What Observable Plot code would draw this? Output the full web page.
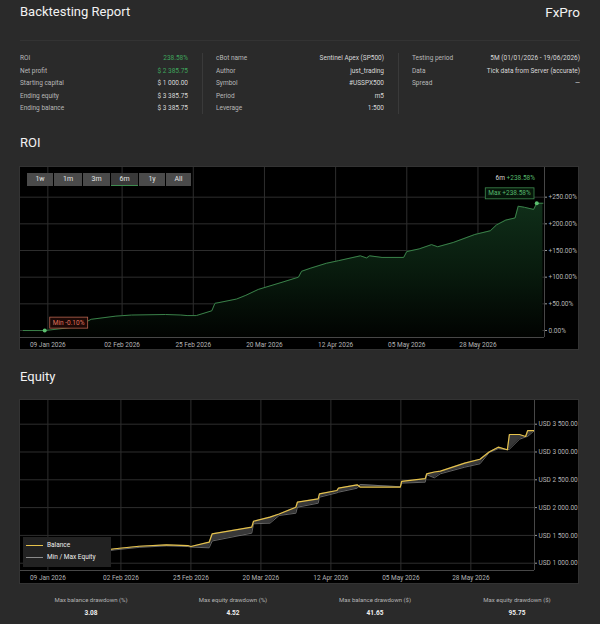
<!DOCTYPE html>
<html><head><meta charset="utf-8">
<script src="https://cdn.jsdelivr.net/npm/d3@7"></script>
<script src="https://cdn.jsdelivr.net/npm/@observablehq/plot@0.6"></script>
<style>
body{margin:0;background:#2a2a2a;font-family:Roboto,"Liberation Sans",sans-serif;}
#page{position:relative;width:600px;height:624px;background:#2a2a2a;overflow:hidden;color:#ddd}
#page div{position:absolute;white-space:nowrap}
</style></head><body><div id="page"></div>
<script>
// ---------- data ----------
const statLabels1 = ["ROI","Net profit","Starting capital","Ending equity","Ending balance"];
const statValues1 = ["238.58%","$ 2 385.75","$ 1 000.00","$ 3 385.75","$ 3 385.75"];
const statLabels2 = ["cBot name","Author","Symbol","Period","Leverage"];
const statValues2 = ["Sentinel Apex (SP500)","just_trading","#USSPX500","m5","1:500"];
const statLabels3 = ["Testing period","Data","Spread"];
const statValues3 = ["5M (01/01/2026 - 19/06/2026)","Tick data from Server (accurate)","—"];
const rangeButtons = ["1w","1m","3m","6m","1y","All"];
const footLabels = ["Max balance drawdown (%)","Max equity drawdown (%)","Max balance drawdown ($)","Max equity drawdown ($)"];
const footValues = ["3.08","4.52","41.65","95.75"];

const xTickDates = ["2026-01-09","2026-02-02","2026-02-25","2026-03-20","2026-04-12","2026-05-05","2026-05-28"];
const roiTicks = [0,50,100,150,200,250];
const equityTicks = [1000,1500,2000,2500,3000,3500];

const roiDates = ["2026-01-01","2026-01-08","2026-01-20","2026-01-21","2026-01-23","2026-01-31","2026-02-05","2026-02-16","2026-02-21","2026-02-23","2026-02-26","2026-03-03","2026-03-04","2026-03-05","2026-03-11","2026-03-14","2026-03-18","2026-03-26","2026-03-31","2026-04-01","2026-04-04","2026-04-09","2026-04-13","2026-04-20","2026-04-22","2026-04-23","2026-04-27","2026-05-04","2026-05-05","2026-05-09","2026-05-13","2026-05-15","2026-05-20","2026-05-27","2026-06-01","2026-06-03","2026-06-06","2026-06-09","2026-06-10","2026-06-12","2026-06-15","2026-06-16","2026-06-18"];
const roiValues = [0,-0.1,8,15,21,27,29,30,29,28,28,37,51,52,59,66,77,91,100,111,117,126,131,140,136,140,137,137,148,153,161,157,165,180,187,198,207,211,233,231,227,238.58,238.58];
const roiMinDate = "2026-01-08", roiMinValue = -0.10;
const roiMaxDate = "2026-06-16", roiMaxValue = 238.58;

const eqDates = ["2026-01-01","2026-01-09","2026-01-19","2026-01-21","2026-01-23","2026-01-31","2026-02-08","2026-02-17","2026-02-24","2026-02-25","2026-03-03","2026-03-04","2026-03-17","2026-03-17T14:00","2026-03-23","2026-03-26","2026-03-31T12:00","2026-04-01","2026-04-07T20:00","2026-04-08T06:00","2026-04-14","2026-04-14T12:00","2026-04-20T16:00","2026-04-21T16:00","2026-05-04T20:00","2026-05-05T06:00","2026-05-13","2026-05-13T12:00","2026-05-16","2026-05-18","2026-05-26","2026-05-31","2026-06-03","2026-06-06","2026-06-09","2026-06-09T16:00","2026-06-13","2026-06-15","2026-06-15T16:00","2026-06-17T22:00"];
const balanceValues = [1000,1000,1040,1130,1200,1260,1305,1330,1318,1300,1378,1529,1648,1755,1830,1885,2007,2097,2158,2248,2308,2349,2410,2367,2367,2470,2520,2608,2640,2655,2800,2870,3000,3087,3040,3315,3315,3279,3385,3385.75];
const equityValues = [1000,999,1025,1100,1175,1240,1285,1312,1300,1290,1277,1400,1540,1709,1720,1858,1899,2007,2079,2187,2266,2277,2349,2415,2375,2440,2457,2590,2536,2608,2727,2788,2990,3060,3040,3050,3230,3270,3280,3385.75];

// ---------- helpers ----------
const page = document.getElementById("page");
function el(css, text, parent = page) {
  const e = document.createElement("div");
  e.style.cssText = css;
  if (text != null) e.textContent = text;
  parent.appendChild(e);
  return e;
}
const parse = s => new Date(s.length === 10 ? s + "T00:00:00Z" : s + ":00Z");
const xTicks = xTickDates.map(parse);
const dateFmt = d3.utcFormat("%d %b %Y");

// ---------- header ----------
el("left:20px;top:4px;font-size:13px;line-height:16px;color:#f2f2f2;", "Backtesting Report");
el("right:20px;top:4px;font-size:13.5px;line-height:16px;color:#f2f2f2;", "FxPro");
el("left:20px;top:40px;width:560px;height:1px;background:#333;");

function statCol(labels, values, lx, rx, greenRows) {
  labels.forEach((l, i) => {
    const top = 52 + i * 12.5;
    el(`left:${lx}px;top:${top}px;font-size:6.5px;line-height:12px;color:#b8b8b8;`, l);
    el(`right:${600 - rx}px;top:${top}px;font-size:6.5px;line-height:12px;color:${greenRows.includes(i) ? "#3fa45c" : "#d8d8d8"};`, values[i]);
  });
}
statCol(statLabels1, statValues1, 20, 188, [0, 1]);
statCol(statLabels2, statValues2, 216, 384, []);
statCol(statLabels3, statValues3, 412, 580, []);
el("left:202px;top:53px;width:1px;height:61px;background:#3a3a3a;");
el("left:398px;top:53px;width:1px;height:61px;background:#3a3a3a;");

el("left:20px;top:135px;font-size:13px;line-height:16px;color:#f2f2f2;", "ROI");
el("left:20px;top:369px;font-size:13px;line-height:16px;color:#f2f2f2;", "Equity");

// ---------- ROI chart ----------
const roiPanel = el("left:20px;top:167px;width:558px;height:182px;background:#000;outline:1px solid #333;");
const roiData = roiDates.map((d, i) => ({date: parse(d), roi: roiValues[i]}));
const roiMin = {date: parse(roiMinDate), roi: roiMinValue};
const roiMax = {date: parse(roiMaxDate), roi: roiMaxValue};
const roiY0 = -13.1, roiY1 = 305.6;
const roiXEnd = parse("2026-06-18T12:00");
const pctFmt = d => (d > 0 ? "+" : "") + d.toFixed(2) + "%";

const roiChart = Plot.plot({
  width: 558, height: 182, marginLeft: 0, marginRight: 34, marginTop: 0, marginBottom: 12,
  style: {background: "transparent", fontFamily: "Roboto, sans-serif", fontSize: "6.5px", color: "#b4b4b4", overflow: "visible"},
  x: {type: "utc", domain: [parse("2025-12-31T04:00"), roiXEnd], label: null},
  y: {domain: [roiY0, roiY1], label: null},
  marks: [
    Plot.ruleX(xTicks, {stroke: "#2e2e2e", strokeWidth: 1}),
    Plot.ruleY(roiTicks, {stroke: "#2e2e2e", strokeWidth: 1}),
    Plot.areaY(roiData, {x: "date", y1: roiY0, y2: "roi", fill: "url(#roiGrad)"}),
    Plot.lineY(roiData, {x: "date", y: "roi", stroke: "#3a8149", strokeWidth: 1}),
    Plot.ruleY([roiY0], {stroke: "#474747"}),
    Plot.ruleX([roiXEnd], {stroke: "#474747"}),
    Plot.axisX(xTicks, {tickFormat: dateFmt, tickSize: 0, tickPadding: 5, label: null, fill: "#b4b4b4"}),
    Plot.axisY(roiTicks, {anchor: "right", tickSize: 2, tickPadding: 2, tickFormat: pctFmt, label: null, stroke: "#999", fill: "#b4b4b4"}),
    Plot.dot([roiMin, roiMax], {x: "date", y: "roi", r: 2, fill: "#5cc070"}),
    Plot.text([roiMin], {x: "date", y: "roi", text: d => "Min " + d.roi.toFixed(2) + "%", textAnchor: "start", dx: 8, dy: -8, fill: "#e0735e", fontSize: 6.5}),
    Plot.text([roiMax], {x: "date", y: "roi", text: d => "Max +" + d.roi.toFixed(2) + "%", textAnchor: "end", dx: -6, dy: -10, fill: "#55b86a", fontSize: 6.5})
  ]
});
roiPanel.appendChild(roiChart);
{
  const svg = d3.select(roiChart);
  const g = svg.insert("defs", ":first-child").append("linearGradient")
    .attr("id", "roiGrad").attr("gradientUnits", "userSpaceOnUse")
    .attr("x1", 0).attr("x2", 0).attr("y1", 30).attr("y2", 170);
  g.append("stop").attr("offset", 0).attr("stop-color", "#10301a");
  g.append("stop").attr("offset", 0.55).attr("stop-color", "#081a0d");
  g.append("stop").attr("offset", 1).attr("stop-color", "#010301");
  svg.selectAll("g[aria-label=text] text").each(function() {
    const b = this.getBBox();
    const isMin = this.textContent.startsWith("Min");
    const r = document.createElementNS("http://www.w3.org/2000/svg", "rect");
    r.setAttribute("x", b.x - 3); r.setAttribute("y", b.y - 1.5);
    r.setAttribute("width", b.width + 6); r.setAttribute("height", b.height + 3);
    const tr = this.getAttribute("transform");
    if (tr) r.setAttribute("transform", tr);
    r.setAttribute("fill", isMin ? "#1c0906" : "#06160a");
    r.setAttribute("stroke", isMin ? "#b86450" : "#3f8c50");
    r.setAttribute("stroke-width", 0.8);
    this.parentNode.insertBefore(r, this);
  });
}
// range buttons
{
  const widths = [26, 28, 27, 27, 26, 25];
  let x = 7;
  rangeButtons.forEach((b, i) => {
    const sel = b === "6m";
    el(`left:${x}px;top:6px;width:${widths[i]}px;height:13px;line-height:13px;text-align:center;font-size:7px;color:#e6e6e6;background:${sel ? "#393939" : "#4a4a4a"};${sel ? "border-bottom:1px solid #3f8c50;height:12px;" : ""}`, b, roiPanel);
    x += widths[i] + 1;
  });
}
{
  const lab = el("right:43px;top:7px;font-size:6.5px;line-height:9px;color:#dcdcdc;", null, roiPanel);
  lab.innerHTML = '6m <span style="color:#55b86a">+238.58%</span>';
}

// ---------- Equity chart ----------
const eqPanel = el("left:20px;top:400px;width:558px;height:183px;background:#000;outline:1px solid #333;");
const eqData = eqDates.map((d, i) => ({date: parse(d), balance: balanceValues[i], equity: equityValues[i]}));
const eqY0 = 869, eqY1 = 3926;
const eqXEnd = parse("2026-06-17T22:00");
const usdFmt = d => "USD " + d3.format(",.2f")(d).replace(/,/g, " ");
const eqChart = Plot.plot({
  width: 558, height: 183, marginLeft: 0, marginRight: 44, marginTop: 0, marginBottom: 13,
  style: {background: "transparent", fontFamily: "Roboto, sans-serif", fontSize: "6.5px", color: "#b4b4b4", overflow: "visible"},
  x: {type: "utc", domain: [parse("2025-12-31T00:00"), eqXEnd], label: null},
  y: {domain: [eqY0, eqY1], label: null},
  marks: [
    Plot.ruleX(xTicks, {stroke: "#2e2e2e"}),
    Plot.ruleY(equityTicks, {stroke: "#2e2e2e"}),
    Plot.areaY(eqData, {x: "date", y1: "equity", y2: "balance", fill: "#3e3e3e", fillOpacity: 0.9}),
    Plot.lineY(eqData, {x: "date", y: "equity", stroke: "#7d7d7d", strokeWidth: 0.8}),
    Plot.lineY(eqData, {x: "date", y: "balance", stroke: "#e6c24b", strokeWidth: 1.2}),
    Plot.ruleY([eqY0], {stroke: "#474747"}),
    Plot.ruleX([eqXEnd], {stroke: "#474747"}),
    Plot.axisX(xTicks, {tickFormat: dateFmt, tickSize: 0, tickPadding: 5, label: null, fill: "#b4b4b4"}),
    Plot.axisY(equityTicks, {anchor: "right", tickSize: 2, tickPadding: 2, tickFormat: usdFmt, label: null, stroke: "#999", fill: "#b4b4b4"})
  ]
});
eqPanel.appendChild(eqChart);
// legend
{
  const lg = el("left:3px;top:137px;width:88px;height:30px;background:#222;", null, eqPanel);
  el("left:3px;top:8px;width:17px;height:1px;background:#e6c24b;", null, lg);
  el("left:24px;top:4px;font-size:6.5px;line-height:9px;color:#eee;", "Balance", lg);
  el("left:3px;top:20px;width:17px;height:1px;background:#8a8a8a;", null, lg);
  el("left:24px;top:16px;font-size:6.5px;line-height:9px;color:#eee;", "Min / Max Equity", lg);
}

// ---------- footer ----------
const footCenters = [91, 233, 375, 517];
footLabels.forEach((l, i) => {
  el(`left:${footCenters[i] - 70}px;width:140px;text-align:center;top:595px;font-size:6px;line-height:10px;color:#b4b4b4;`, l);
  el(`left:${footCenters[i] - 70}px;width:140px;text-align:center;top:608px;font-size:6.5px;line-height:10px;color:#f0f0f0;font-weight:bold;`, footValues[i]);
});
</script></body></html>
